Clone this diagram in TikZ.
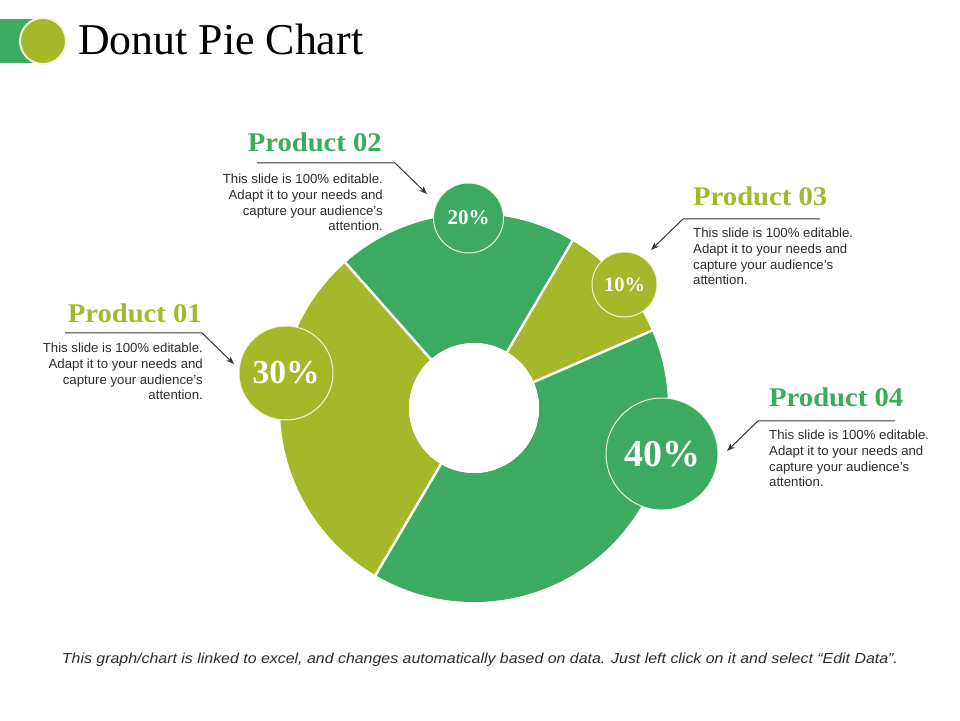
\documentclass[tikz,border=0pt]{standalone}
\usepackage{fontspec}
\setmainfont{Liberation Serif}
\setsansfont{Liberation Sans}
\usetikzlibrary{arrows.meta}
\definecolor{dg}{RGB}{60,170,96}
\definecolor{ol}{RGB}{164,184,42}
\definecolor{txt}{RGB}{45,45,45}
\definecolor{cream}{RGB}{242,246,215}
\definecolor{lin}{RGB}{55,55,55}
\tikzset{
  pct/.style={circle, draw=cream, line width=1pt, inner sep=0pt, text=white, font=\bfseries},
  head/.style={inner sep=0pt, font=\bfseries},
  body/.style={inner sep=0pt, text=txt, font=\sffamily\fontsize{13.2}{15.6}\selectfont},
  callout/.style={draw=lin, line width=1pt, -{Stealth[length=8pt,width=6pt]}},
  sep/.style={draw=white, line width=2.5pt}
}
\begin{document}
\begin{tikzpicture}[x=1pt,y=1pt]
\useasboundingbox (0,0) rectangle (960,720);
\fill[white] (0,0) rectangle (960,720);

% title icon
\fill[dg] (0,657) rectangle (36,701);
\node[circle, fill=ol, draw=cream, line width=2pt, minimum size=46pt, inner sep=0pt] (icon) at (43,679) {};
\node[anchor=base west, inner sep=0pt] (title) at (78,665) {\resizebox{285pt}{\height}{\fontsize{44}{50}\selectfont Donut Pie Chart}};

% donut
\begin{scope}[shift={(474,312)}]
\fill[ol] (131.5:65) -- (131.5:194) arc[start angle=131.5,end angle=239.5,radius=194] -- (239.5:65) arc[start angle=239.5,end angle=131.5,radius=65] -- cycle;
\fill[dg] (59.5:65) -- (59.5:194) arc[start angle=59.5,end angle=131.5,radius=194] -- (131.5:65) arc[start angle=131.5,end angle=59.5,radius=65] -- cycle;
\fill[ol] (23.5:65) -- (23.5:194) arc[start angle=23.5,end angle=59.5,radius=194] -- (59.5:65) arc[start angle=59.5,end angle=23.5,radius=65] -- cycle;
\fill[dg] (-120.5:65) -- (-120.5:194) arc[start angle=-120.5,end angle=23.5,radius=194] -- (23.5:65) arc[start angle=23.5,end angle=-120.5,radius=65] -- cycle;
\foreach \a in {23.5,59.5,131.5,239.5} { \draw[sep] (\a:60) -- (\a:196); }
\fill[white] (0,0) circle[radius=65];
\end{scope}

% percentage circles
\node[pct, fill=ol, minimum size=94pt, font=\bfseries\fontsize{33.5}{36}\selectfont] (c30) at (286,347) {30\%};
\node[pct, fill=dg, minimum size=70pt, font=\bfseries\fontsize{21}{24}\selectfont] (c20) at (468.5,502) {20\%};
\node[pct, fill=ol, minimum size=65pt, font=\bfseries\fontsize{20.5}{24}\selectfont] (c10) at (624.5,435.5) {10\%};
\node[pct, fill=dg, minimum size=112pt, font=\bfseries\fontsize{38}{42}\selectfont] (c40) at (662,266) {40\%};

% headings
\node[head, text=dg, anchor=base east] (h02) at (382,568) {\resizebox{134pt}{\height}{\fontsize{27}{30}\selectfont Product 02}};
\node[head, text=ol, anchor=base west] (h03) at (693,514) {\resizebox{134pt}{\height}{\fontsize{27}{30}\selectfont Product 03}};
\node[head, text=ol, anchor=base east] (h01) at (202,397) {\resizebox{134pt}{\height}{\fontsize{27}{30}\selectfont Product 01}};
\node[head, text=dg, anchor=base west] (h04) at (769,313) {\resizebox{134pt}{\height}{\fontsize{27}{30}\selectfont Product 04}};

% body texts
\node[body, anchor=base east] (t02) at (383,536) {\parbox[t]{200pt}{\raggedleft This slide is 100\% editable.\\Adapt it to your needs and\\capture your audience's\\attention.}};
\node[body, anchor=base west] (t03) at (693,482) {\parbox[t]{200pt}{\raggedright This slide is 100\% editable.\\Adapt it to your needs and\\capture your audience's\\attention.}};
\node[body, anchor=base east] (t01) at (203,367) {\parbox[t]{200pt}{\raggedleft This slide is 100\% editable.\\Adapt it to your needs and\\capture your audience's\\attention.}};
\node[body, anchor=base west] (t04) at (769,280) {\parbox[t]{200pt}{\raggedright This slide is 100\% editable.\\Adapt it to your needs and\\capture your audience's\\attention.}};

% callout lines
\coordinate (s02) at (257,557); \coordinate (b02) at (395,557); \coordinate (e02) at (427,526);
\coordinate (s03) at (820,501); \coordinate (b03) at (683,501); \coordinate (e03) at (651,470);
\coordinate (s01) at (65,387);  \coordinate (b01) at (202,387); \coordinate (e01) at (234,356);
\coordinate (s04) at (895,299); \coordinate (b04) at (758,299); \coordinate (e04) at (727,269);
\draw[callout] (s02) -- (b02) -- (e02);
\draw[callout] (s03) -- (b03) -- (e03);
\draw[callout] (s01) -- (b01) -- (e01);
\draw[callout] (s04) -- (b04) -- (e04);

% footer
\node[inner sep=0pt, anchor=base, text=txt] (foot) at (480,57) {\resizebox{836pt}{\height}{\sffamily\itshape\fontsize{14.5}{16}\selectfont This graph/chart is linked to excel, and changes automatically based on data. Just left click on it and select “Edit Data”.}};
\end{tikzpicture}
\end{document}
